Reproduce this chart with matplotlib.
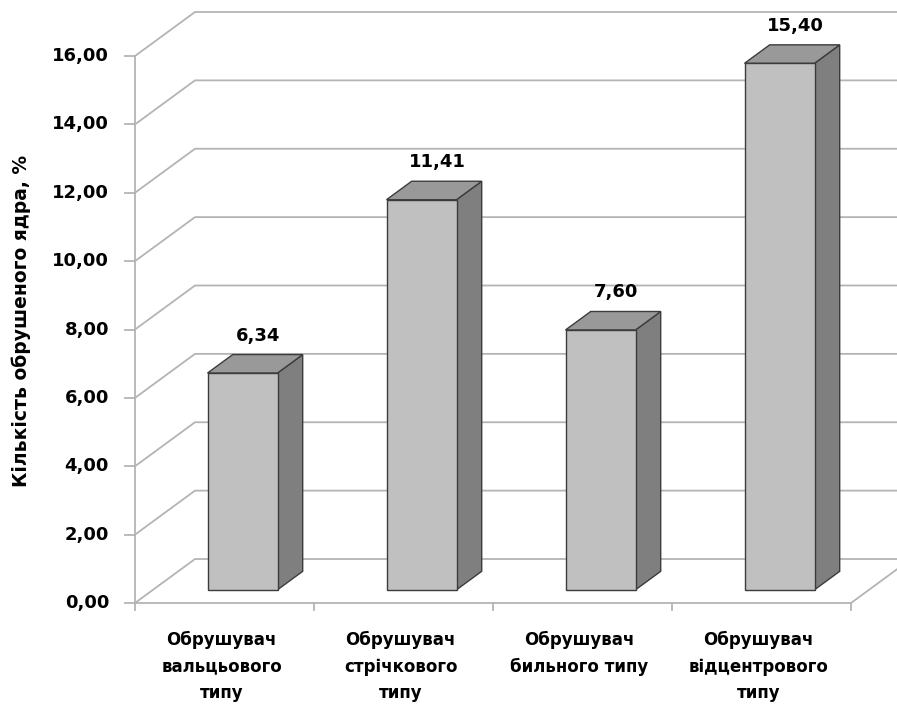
import numpy as np
import matplotlib.pyplot as plt
from matplotlib.patches import Polygon

categories = ["Обрушувач\nвальцьового\nтипу",
              "Обрушувач\nстрічкового\nтипу",
              "Обрушувач\nбильного типу",
              "Обрушувач\nвідцентрового\nтипу"]
values = [6.34, 11.41, 7.60, 15.40]
value_labels = ["6,34", "11,41", "7,60", "15,40"]
yticks = np.arange(0, 17, 2)
ylabel = "Кількість обрушеного ядра, %"

W, H = 897, 704
fig = plt.figure(figsize=(W / 100, H / 100), dpi=100)
ax = fig.add_axes([135 / W, 101 / H, 716 / W, 547 / H])
ax.set_xlim(-0.5, 3.5)
ax.set_ylim(0, 16)
ax.axis('off')

sx = 716 / 4.0      # px per category
sy = 547 / 16.0     # px per unit
dx, dy = 60 / sx, 44 / sy   # full floor depth in data units

grid_c = '#b4b4b4'
lw = 1.3

# walls: gridlines go back along the left wall, then across the back wall
for v in yticks:
    ax.plot([-0.5, -0.5 + dx, 6], [v, v + dy, v + dy], color=grid_c, lw=lw,
            clip_on=False, zorder=1)
    ax.plot([-0.5 - 10 / sx, -0.5], [v, v], color=grid_c, lw=lw, clip_on=False)
    ax.text(-0.5 - 26 / sx, v, f"{v:.2f}".replace('.', ','), ha='right',
            va='center', fontsize=13, fontweight='bold')

# front axis and floor edges
ax.plot([-0.5, -0.5], [0, 16], color=grid_c, lw=lw, clip_on=False)
ax.plot([-0.5, 3.5], [0, 0], color=grid_c, lw=lw, clip_on=False)
ax.plot([3.5, 3.5 + dx], [0, dy], color=grid_c, lw=lw, clip_on=False)
for xt in np.arange(-0.5, 3.6, 1.0):
    ax.plot([xt, xt], [0, -7 / sy], color=grid_c, lw=lw, clip_on=False)

# 3D-looking bars
f0, f1 = 0.3, 0.72
w = 70 / sx
bdx, bdy = (f1 - f0) * dx, (f1 - f0) * dy
edge = '#3c3c3c'
for i, (v, lab) in enumerate(zip(values, value_labels)):
    cx = i + f0 * dx
    b = f0 * dy
    xl, xr = cx - w / 2, cx + w / 2
    front = Polygon([(xl, b), (xr, b), (xr, b + v), (xl, b + v)],
                    closed=True, fc='#c0c0c0', ec=edge, lw=1.0, zorder=3)
    side = Polygon([(xr, b), (xr + bdx, b + bdy), (xr + bdx, b + bdy + v),
                    (xr, b + v)], closed=True, fc='#7f7f7f', ec=edge, lw=1.0,
                   zorder=3)
    top = Polygon([(xl, b + v), (xr, b + v), (xr + bdx, b + v + bdy),
                   (xl + bdx, b + v + bdy)], closed=True, fc='#999999',
                  ec=edge, lw=1.0, zorder=3)
    for p in (side, top, front):
        p.set_clip_on(False)
        ax.add_patch(p)
    ax.text(cx + bdx / 2 + 3 / sx, b + v + bdy + 10 / sy, lab, ha='center',
            va='bottom', fontsize=13, fontweight='bold', zorder=4)

# category labels
for i, c in enumerate(categories):
    ax.text(i - 3 / sx, -28 / sy, c, ha='center', va='top', fontsize=12,
            fontweight='bold', linespacing=1.6)

fig.text(21 / W, 1 - 321 / H, ylabel, rotation=90, ha='center', va='center',
         fontsize=13.5, fontweight='bold')

fig.savefig('out.png', dpi=100)
